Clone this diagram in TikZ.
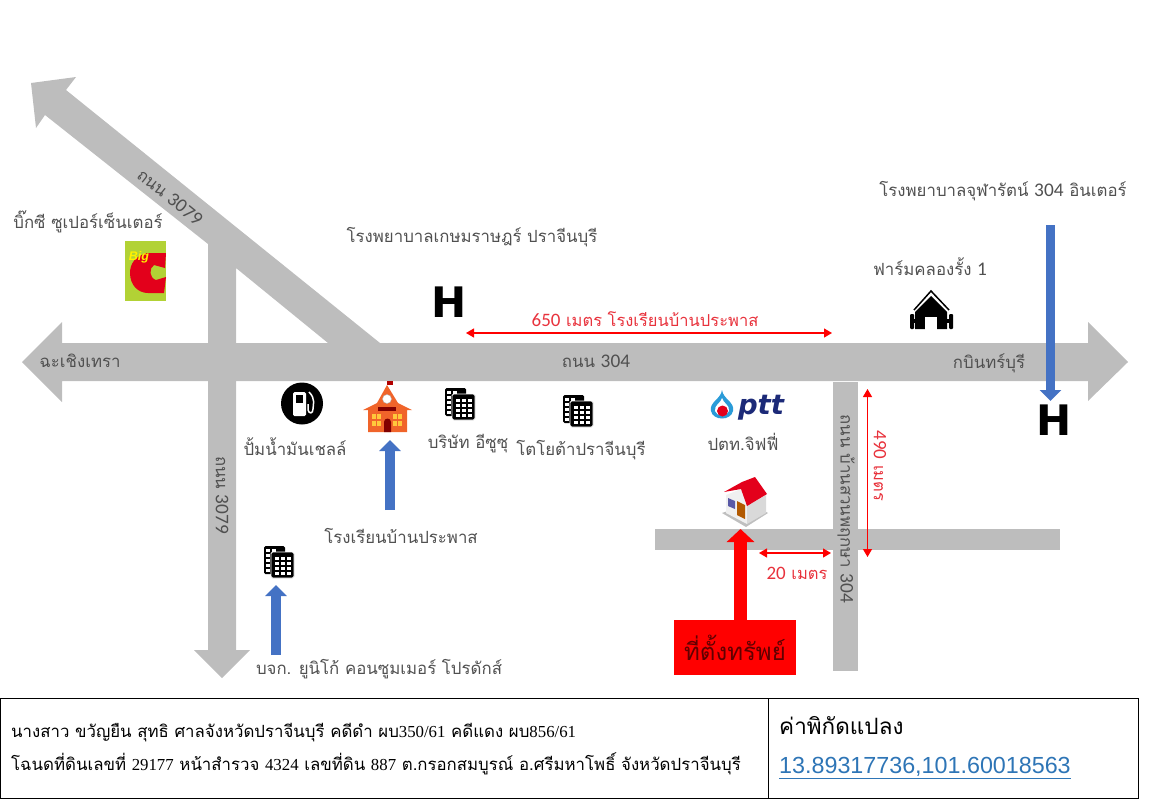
\documentclass[tikz,border=0pt]{standalone}
\usepackage{fontspec}
\setmainfont[Script=Thai]{Loma}
\newfontfamily\digitfont{Liberation Serif}
\newfontfamily\linkfont{Liberation Sans}
\newfontfamily\numfont[Scale=1.15]{Carlito}
\newfontfamily\iconfont{DejaVu Sans}
\usepackage{tikz}
\usetikzlibrary{arrows.meta,positioning,calc}
\definecolor{roadgray}{HTML}{BDBDBD}
\definecolor{labelgray}{HTML}{505050}
\definecolor{noteblue}{HTML}{4472C4}
\definecolor{linkblue}{HTML}{2E75B6}
\definecolor{dimred}{HTML}{E8323C}
\definecolor{roofred}{HTML}{E3001B}
\definecolor{schoolorange}{HTML}{F0642A}
\definecolor{windowyellow}{HTML}{FFC83C}
\definecolor{bigcgreen}{HTML}{B2D235}
\definecolor{pttnavy}{HTML}{1C2A78}
\definecolor{pttblue}{HTML}{2A9BD8}

\newcommand{\txt}[1]{\fontsize{#1}{#1}\selectfont}

\begin{document}
\begin{tikzpicture}
    [x=1pt, y=-1pt,
      road/.style={fill=roadgray, draw=none},
      place/.style={text=labelgray, inner sep=0pt, font=\txt{16.8}},
      roadname/.style={text=labelgray, inner sep=0pt, font=\txt{16.8}},
      dimlabel/.style={text=dimred, inner sep=0pt, font=\txt{16.5}},
      darc/.style={{Triangle[length=8pt,width=9pt]}-{Triangle[length=8pt,width=9pt]}, red, line width=1.2pt},
      bluearc/.style={-{Triangle[length=11pt,width=21pt]}, noteblue, line width=10pt},
      redarc/.style={-{Triangle[length=13pt,width=27pt]}, red, line width=13pt},
      hletter/.style={inner sep=0pt, font=\iconfont\bfseries\txt{42}},
      cell/.style={draw=black, semithick},
      office/.pic={
        \fill[black, rounded corners=1.5pt] (-14,-17) rectangle (7,11);
        \foreach \yy in {-14,-9,-4,1,6}
          \foreach \xx in {-12,-6}
            \fill[white] (\xx,\yy) rectangle ++(4,3);
        \fill[black, rounded corners=1.5pt, draw=white, line width=.8pt] (-7,-11) rectangle (16,15);
        \foreach \yy in {-6,-1,4,9}
          \foreach \xx in {-3,3,9}
            \fill[white] (\xx,\yy) rectangle ++(4,3.4);
      }]

    % roads
    \fill[road] (22,362) -- (62,322) -- (62,343) -- (1088,343) -- (1088,322) -- (1128,362)
      -- (1088,401) -- (1088,381) -- (62,381) -- (62,402) -- cycle;
    \fill[road] (31,83) -- (76,77) -- (66,90) -- (380,343) -- (328,343) -- (236,268)
      -- (236,650) -- (250,650) -- (222,678) -- (194,650) -- (208,650) -- (208,244)
      -- (45,115) -- (36,128) -- cycle;
    \fill[road] (833,382) rectangle (858,671);
    \fill[road] (655,529) rectangle (1060,550);

    % road names
    \node (diagname) at (170,197) [roadname, rotate=-39] {ถนน {\numfont 3079}};
    \node (vertname) at (222,495) [roadname, rotate=-90] {ถนน {\numfont 3079}};
    \node (mainname) at (596,361) [roadname] {ถนน {\numfont 304}};
    \node (westname) at (80,361) [roadname] {ฉะเชิงเทรา};
    \node (eastname) at (989,363) [roadname] {กบินทร์บุรี};
    \node (sidename) at (846,509) [roadname, rotate=-90] {ถนน บ้านสวนพฤกษา {\numfont 304}};

    % big c
    \node (bigc) at (145.5,271) [fill=bigcgreen, minimum width=41pt, minimum height=60pt, inner sep=0pt] {};
    \fill[roofred] (166,253) -- (147,253) .. controls (135,256) and (130,264) .. (130,273)
      .. controls (130,285) and (138,293) .. (148,293) -- (164,293) -- (166,277) -- (156,280)
      .. controls (149,278) and (149,268) .. (154,265) -- (165,268) -- cycle;
    \node (bigword) at (139,257) [text=yellow, inner sep=0pt, font=\linkfont\bfseries\itshape\txt{12.5}] {Big};
    \node (bigclabel) at (88,222) [place] {บิ๊กซี ซูเปอร์เซ็นเตอร์};

    % petrol station
    \node (pump) at (302,403.5) [circle, fill=black, minimum size=42pt, inner sep=0pt] {};
    \fill[white, rounded corners=1.5pt] (293,392) rectangle (306,416);
    \fill[black] (296,395) rectangle (303,403);
    \draw[white, line width=1.5pt] (309,392) .. controls (316,399) and (313,405) .. (313,409)
      .. controls (313,414) and (309,414) .. (308,410) -- (308,404);
    \node (pumplabel) at (295,447) [place] {ปั้มน้ำมันเชลล์};

    % school
    \fill[schoolorange] (363,410) -- (377,403) -- (387,385) -- (398,403) -- (412,410) -- (407,410)
      -- (407,432) -- (368,432) -- (368,410) -- cycle;
    \draw[schoolorange, thick] (387,385) -- (387,381);
    \fill[red!70!black] (387,381) rectangle (393,385);
    \node (clock) at (387,399) [circle, fill=white, draw=white!70!black, minimum size=9pt, inner sep=0pt] {};
    \fill[red!50!black] (378,407) rectangle (396,411);
    \foreach \yy in {414,421}
      \foreach \xx in {372,377,393,398}
        \fill[windowyellow] (\xx,\yy) rectangle ++(4,5);
    \fill[red!50!black] (384,432) -- (384,422) arc (180:0:3.5pt) -- (391,432) -- cycle;
    \coordinate (schooltop) at (390,440);
    \coordinate (schooltail) at (390,510);
    \draw[bluearc] (schooltail) -- (schooltop);
    \node (schoollabel) at (401,536) [place] {โรงเรียนบ้านประพาส};

    % offices
    \pic (isuzu) at (459,405) {office};
    \node (isuzulabel) at (468,444) [place] {บริษัท อีซูซุ};
    \pic (toyota) at (577,412) {office};
    \node (toyotalabel) at (581,450) [place] {โตโยต้าปราจีนบุรี};
    \pic (unico) at (278,563) {office};
    \coordinate (unicotop) at (276,585);
    \coordinate (unicotail) at (276,655);
    \draw[bluearc] (unicotail) -- (unicotop);
    \node (unicolabel) at (379,669) [place] {บจก. ยูนิโก้ คอนซูมเมอร์ โปรดักส์};

    % hospitals
    \node (kasemlabel) at (472,237) [place] {โรงพยาบาลเกษมราษฎร์ ปราจีนบุรี};
    \node (hkasem) at (449,302) [hletter] {H};
    \node (chulalabel) at (1003,191) [place] {โรงพยาบาลจุฬารัตน์ {\numfont 304} อินเตอร์};
    \node (hchula) at (1054,420) [hletter] {H};
    \coordinate (chulatail) at (1050.5,225);
    \draw[bluearc, line width=9.5pt] (chulatail) -- (1050.5,401);

    % farm
    \fill[black] (931,296) -- (915,312) -- (915,329) -- (925,329) -- (925,317) -- (937,317) -- (937,329) -- (947,329) -- (947,312) -- cycle;
    \draw[black, line width=1.5pt] (914,310) -- (931,291) -- (949,310);
    \fill[black, rounded corners=1pt] (910,314) rectangle (914,329);
    \fill[black, rounded corners=1pt] (949,314) rectangle (953,329);
    \fill[black] (910,319) rectangle (953,323);
    \fill[white] (925,317) rectangle (937,329);
    \node (farmlabel) at (930,267) [place] {ฟาร์มคลองรั้ง {\numfont 1}};

    % ptt
    \fill[pttblue] (722,390) .. controls (723,399) and (735,402) .. (733,411) .. controls (731,421) and (713,421) .. (711,411) .. controls (709,402) and (721,399) .. (722,390) -- cycle;
    \fill[white] (722,398) .. controls (723,403) and (730,405) .. (729,411) .. controls (727,417) and (717,417) .. (715,411) .. controls (714,405) and (721,403) .. (722,398) -- cycle;
    \node (pttdrop) at (722.5,411) [circle, fill=roofred, minimum size=11pt, inner sep=0pt] {};
    \node (pttword) at (761,408) [text=pttnavy, inner sep=0pt, font=\iconfont\bfseries\itshape\txt{27.5}] {ptt};
    \node (pttlabel) at (743,442) [place] {ปตท.จิฟฟี่};

    % house
    \fill[black!25] (722,513) -- (746,527) -- (768,513) -- (750,503) -- cycle;
    \fill[white!94!black] (726,495) -- (741,489) -- (747,506) -- (747,524) -- (726,513) -- cycle;
    \fill[white!85!black] (747,506) -- (766,495) -- (766,513) -- (747,524) -- cycle;
    \fill[roofred] (724,492) -- (742,482) -- (755,477) -- (767,494) -- (747,506) -- (741,489) -- cycle;
    \fill[orange!70!black] (737,501) -- (745,505) -- (745,519) -- (737,515) -- cycle;
    \fill[blue!30!gray] (728,498) -- (735,501) -- (735,509) -- (728,506) -- cycle;

    % subject property
    \node (plot) at (735,647.5) [fill=red, text={rgb,255:red,96;green,0;blue,0}, minimum width=122pt, minimum height=55pt, inner sep=0pt, font=\txt{24}] {ที่ตั้งทรัพย์};
    \coordinate (plottip) at (740.5,529);
    \draw[redarc] (plot.north -| plottip) -- (plottip);

    % distances
    \coordinate (d1a) at (466,333);
    \coordinate (d1b) at (832,333);
    \draw[darc] (d1a) -- (d1b);
    \node (d1label) at (645,319) [dimlabel] {{\numfont 650} เมตร โรงเรียนบ้านประพาส};
    \coordinate (d2a) at (867.5,389);
    \coordinate (d2b) at (867.5,557);
    \draw[darc] (d2a) -- (d2b);
    \node (d2label) at (880,466) [dimlabel, rotate=-90] {{\numfont 490} เมตร};
    \coordinate (d3a) at (759,553);
    \coordinate (d3b) at (831,553);
    \draw[darc] (d3a) -- (d3b);
    \node (d3label) at (797,573) [dimlabel] {{\numfont 20} เมตร};

    % table
    \draw[cell] (0.5,698) rectangle (1138,798);
    \draw[cell] (768,698) -- (768,798);
    \node (case1) at (11,733) [anchor=west, inner sep=0pt, font=\txt{16.8}] {นางสาว ขวัญยืน สุทธิ  ศาลจังหวัดปราจีนบุรี คดีดำ ผบ{\digitfont 350/61} คดีแดง ผบ{\digitfont 856/61}};
    \node (case2) at (11,764) [anchor=west, inner sep=0pt, font=\txt{16.8}] {โฉนดที่ดินเลขที่ {\digitfont 29177} หน้าสำรวจ {\digitfont 4324} เลขที่ดิน {\digitfont 887} ต.กรอกสมบูรณ์ อ.ศรีมหาโพธิ์ จังหวัดปราจีนบุรี};
    \node (coordhead) at (779,726) [anchor=west, inner sep=0pt, font=\txt{22.5}] {ค่าพิกัดแปลง};
    \node (coordlink) at (779,768) [anchor=west, inner sep=0pt, text=linkblue, font=\linkfont\txt{23.3}] {\underline{13.89317736,101.60018563}};

    \useasboundingbox (0,0) rectangle (1156,800);
  \end{tikzpicture}
\end{document}
